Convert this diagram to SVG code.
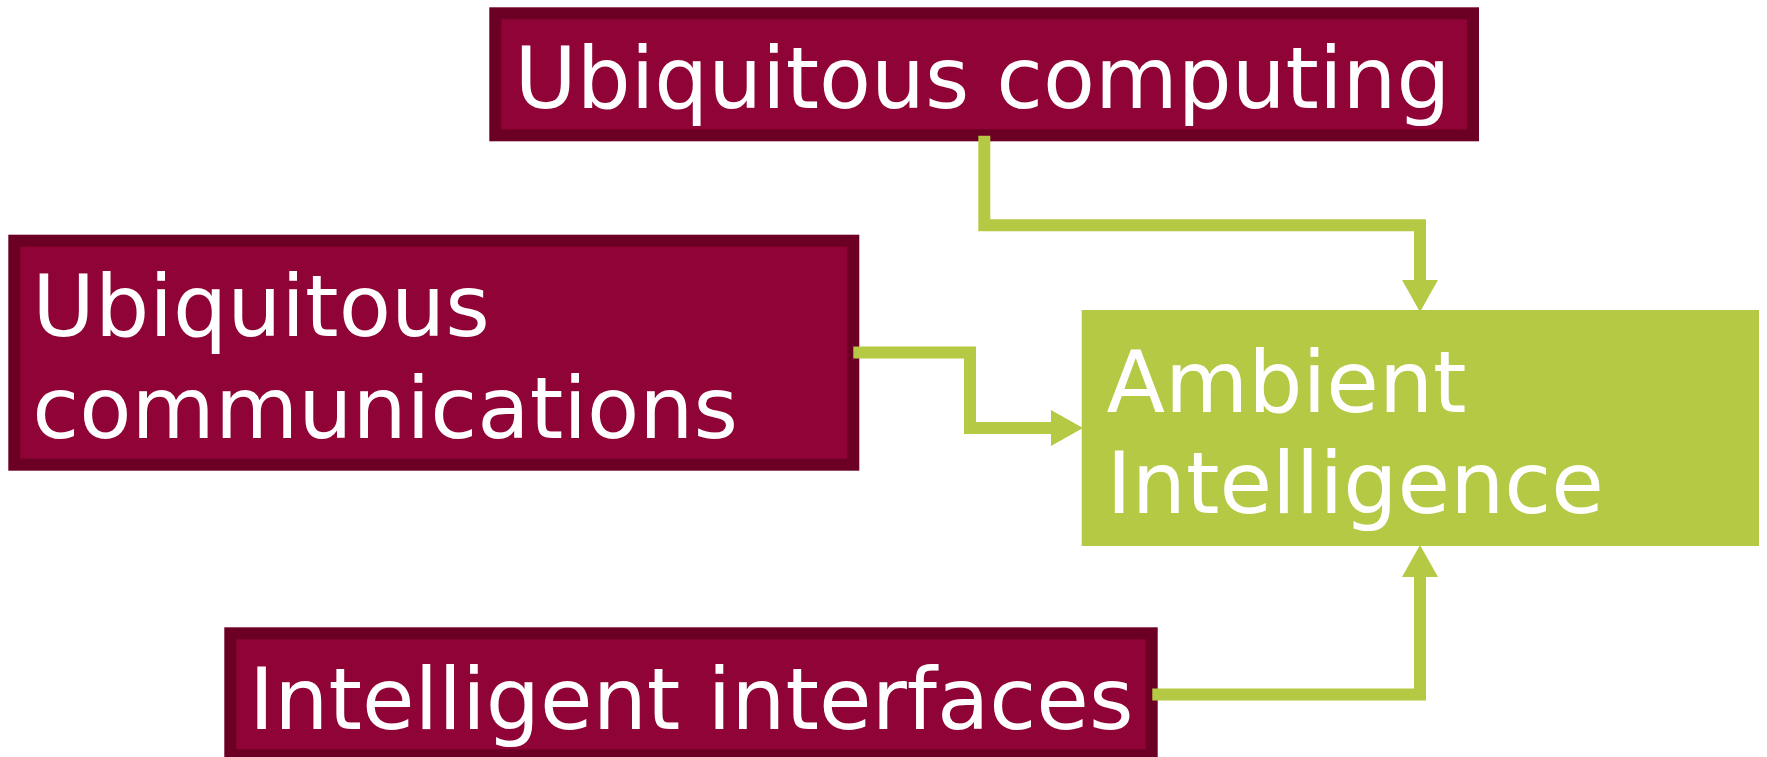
<svg xmlns="http://www.w3.org/2000/svg" width="1767" height="757" viewBox="0 0 1767 757">
  <style>
    .box { fill: #8f0336; stroke: #6c0024; stroke-width: 12; }
    .goal { fill: #b5c944; }
    .lbl { font-family: "DejaVu Sans", sans-serif; fill: #ffffff; font-size: 85.5px; }
    .conn { fill: none; stroke: #b5c944; stroke-width: 12; stroke-linejoin: miter; stroke-linecap: butt; }
  </style>
  <defs>
    <marker id="arrow" viewBox="0 0 32 36" refX="0" refY="18" markerWidth="32" markerHeight="36" markerUnits="userSpaceOnUse" orient="auto">
      <path d="M0,0 L32,18 L0,36 z" fill="#b5c944"/>
    </marker>
  </defs>
  <rect width="1767" height="757" fill="#ffffff"/>

  <g id="ubiquitous-computing">
    <rect class="box" x="495.3" y="13.3" width="977.7" height="122"/>
    <text class="lbl" x="514.5" y="107.5" style="font-size:85px">Ubiquitous computing</text>
  </g>

  <g id="ubiquitous-communications">
    <rect class="box" x="14.3" y="240.7" width="839" height="224"/>
    <text class="lbl" x="32.3" y="336">Ubiquitous</text>
    <text class="lbl" x="32.3" y="437.5">communications</text>
  </g>

  <g id="ambient-intelligence">
    <rect class="goal" x="1081.7" y="310" width="677.3" height="236"/>
    <text class="lbl" x="1106.5" y="411.5">Ambient</text>
    <text class="lbl" x="1106.5" y="513">Intelligence</text>
  </g>

  <g id="intelligent-interfaces">
    <rect class="box" x="230.3" y="633.3" width="921.4" height="122"/>
    <text class="lbl" x="249" y="729">Intelligent interfaces</text>
  </g>

  <g id="connectors">
    <path class="conn" d="M984.3,135.7 V225.3 H1420 V280" marker-end="url(#arrow)"/>
    <path class="conn" d="M853.3,352.5 H970 V428 H1051" marker-end="url(#arrow)"/>
    <path class="conn" d="M1152.3,694.5 H1420 V577" marker-end="url(#arrow)"/>
  </g>
</svg>
